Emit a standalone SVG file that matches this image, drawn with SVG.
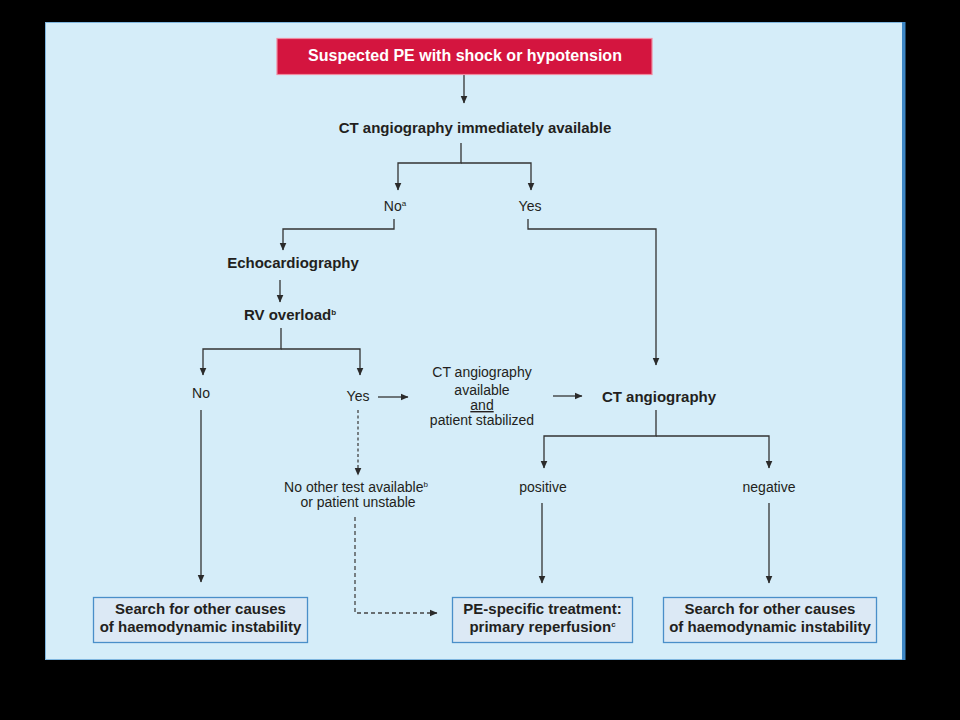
<svg xmlns="http://www.w3.org/2000/svg" width="960" height="720" viewBox="0 0 960 720">
<defs>
<marker id="ah" markerUnits="userSpaceOnUse" markerWidth="8" markerHeight="9" viewBox="0 0 8 9" refX="7.5" refY="4.5" orient="auto">
<path d="M0,1 L8,4.5 L0,8 Z" fill="#2b2b2b"/>
</marker>
<style>
.c{fill:none;stroke:#333;stroke-width:1.3}
.dot{fill:none;stroke:#444;stroke-width:1.3;stroke-dasharray:3 2.5}
.dash{fill:none;stroke:#444;stroke-width:1.3;stroke-dasharray:4 3}
text{font-family:"Liberation Sans",Arial,sans-serif;fill:#231f20;text-anchor:middle}
.b{font-weight:bold;font-size:15px}
.r{font-size:14px}
.box{fill:#dce9f5;stroke:#4a8fc9;stroke-width:1.3}
.sup{font-size:8px}
</style>
</defs>
<rect x="0" y="0" width="960" height="720" fill="#000"/>
<rect x="45.5" y="22.5" width="859" height="637" fill="#d5edf9" stroke="#7fb6df" stroke-width="1"/>
<rect x="902" y="22" width="3.5" height="638" fill="#3d87c6"/>

<g id="connectors">
<path class="c" d="M464,74 V103" marker-end="url(#ah)"/>
<path class="c" d="M461,143 V163 H398 V190" marker-end="url(#ah)"/>
<path class="c" d="M461,163 H531 V190" marker-end="url(#ah)"/>
<path class="c" d="M394,219 V229 H283 V250" marker-end="url(#ah)"/>
<path class="c" d="M528,219 V229 H656 V365" marker-end="url(#ah)"/>
<path class="c" d="M280,280 V302" marker-end="url(#ah)"/>
<path class="c" d="M281,328 V349 H203 V375" marker-end="url(#ah)"/>
<path class="c" d="M281,349 H360 V375" marker-end="url(#ah)"/>
<path class="c" d="M378,397 H408" marker-end="url(#ah)"/>
<path class="c" d="M553,396 H582" marker-end="url(#ah)"/>
<path class="c" d="M656,410 V436 H544 V468" marker-end="url(#ah)"/>
<path class="c" d="M656,436 H769 V468" marker-end="url(#ah)"/>
<path class="c" d="M542,503 V583" marker-end="url(#ah)"/>
<path class="c" d="M769,503 V583" marker-end="url(#ah)"/>
<path class="c" d="M201,410 V582" marker-end="url(#ah)"/>
<path class="dot" d="M358,410 V475" marker-end="url(#ah)"/>
<path class="dash" d="M355,517 V613 H437" marker-end="url(#ah)"/>
</g>

<g id="start">
<rect x="277" y="38.5" width="375" height="36" fill="#d4153f" stroke="#f08aa0" stroke-width="1.2"/>
<text class="b" x="465" y="61" style="fill:#fff;font-size:16px">Suspected PE with shock or hypotension</text>
</g>
<g id="ct-immediate"><text class="b" x="475" y="133">CT angiography immediately available</text></g>
<g id="no-a"><text class="r" x="395" y="211">No<tspan class="sup" dy="-5">a</tspan></text></g>
<g id="yes-1"><text class="r" x="530" y="211">Yes</text></g>
<g id="echo"><text class="b" x="293" y="268">Echocardiography</text></g>
<g id="rv"><text class="b" x="290" y="320">RV overload<tspan class="sup" dy="-5">b</tspan></text></g>
<g id="no-2"><text class="r" x="201" y="398">No</text></g>
<g id="yes-2"><text class="r" x="358" y="401">Yes</text></g>
<g id="ct-available">
<text class="r" x="482" y="377">CT angiography</text>
<text class="r" x="482" y="395">available</text>
<text class="r" x="482" y="410" text-decoration="underline">and</text>
<text class="r" x="482" y="425">patient stabilized</text>
</g>
<g id="ct"><text class="b" x="659" y="402">CT angiography</text></g>
<g id="positive"><text class="r" x="543" y="492">positive</text></g>
<g id="negative"><text class="r" x="769" y="492">negative</text></g>
<g id="no-other">
<text class="r" x="356" y="492">No other test available<tspan class="sup" dy="-5">b</tspan></text>
<text class="r" x="358" y="507">or patient unstable</text>
</g>
<g id="search-left">
<rect class="box" x="93.5" y="597.5" width="214" height="45"/>
<text class="b" x="200.5" y="614">Search for other causes</text>
<text class="b" x="200.5" y="632">of haemodynamic instability</text>
</g>
<g id="pe-treatment">
<rect class="box" x="452.5" y="597.5" width="180" height="45"/>
<text class="b" x="542.5" y="614">PE-specific treatment:</text>
<text class="b" x="542.5" y="632">primary reperfusion<tspan class="sup" dy="-5">c</tspan></text>
</g>
<g id="search-right">
<rect class="box" x="663.5" y="597.5" width="213" height="45"/>
<text class="b" x="770" y="614">Search for other causes</text>
<text class="b" x="770" y="632">of haemodynamic instability</text>
</g>
</svg>
